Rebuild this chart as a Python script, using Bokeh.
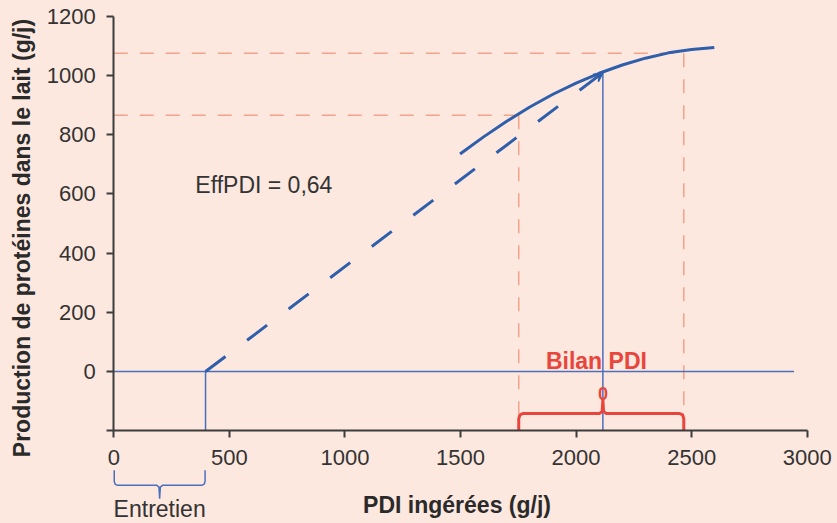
import math
from bokeh.plotting import figure
from bokeh.models import Range1d, FixedTicker, Label, Arrow, VeeHead
from bokeh.embed import file_html
from bokeh.resources import INLINE

# ---------------- data ----------------
# response curve (solid): PDI ingested (g/j) -> milk protein (g/j)
curve_x = [1498, 1600, 1700, 1800, 1900, 2000, 2100, 2200, 2300, 2400, 2500, 2598]
curve_y = [735, 793, 846, 894, 937, 975, 1008, 1036, 1059, 1077, 1088, 1095]

# marginal efficiency line (dashed), EffPDI = 0.64
eff_x = [397, 2116]
eff_y = [0, 1010]
eff_text = "EffPDI = 0,64"

# maintenance requirement (Entretien)
entretien_x = [0, 397]

# PDI balance range and its protein yields
bilan_x = [1752, 2466]
bilan_prod = [866, 1076]
bilan_zero_x = 2116

# horizontal reference line at 0
zero_line_x = [0, 2943]

x_ticks = [0, 500, 1000, 1500, 2000, 2500, 3000]
y_ticks = [-200, 0, 200, 400, 600, 800, 1000, 1200]
x_bounds = (0, 3000)
y_bounds = (-200, 1200)

x_label = "PDI ingérées (g/j)"
y_label = "Production de protéines dans le lait (g/j)"

# ---------------- style ----------------
BG = "#fde8df"
BLUE = "#2f5eab"
BLUE_THIN = "#4b6fbd"
SALMON = "#f4a28c"
RED = "#e8453c"
AXIS = "#3c3c3c"
TEXT = "#333333"
FONT = "Liberation Sans"

p = figure(width=837, height=523,
           x_range=Range1d(-490, 3131), y_range=Range1d(-514, 1254),
           output_backend="svg", toolbar_location=None,
           min_border_left=0, min_border_right=0,
           min_border_top=0, min_border_bottom=0,
           background_fill_color=BG, border_fill_color=BG,
           outline_line_color=None)
p.xgrid.visible = False
p.ygrid.visible = False

# y axis, fixed at x = 0
ya = p.yaxis[0]
ya.fixed_location = x_bounds[0]
ya.bounds = y_bounds
ya.ticker = FixedTicker(ticks=y_ticks)
ya.major_label_overrides = {y_bounds[0]: ""}
ya.minor_tick_line_color = None
ya.major_tick_in = 0
ya.major_tick_out = 7
ya.axis_line_width = 2
ya.axis_line_color = AXIS
ya.major_tick_line_width = 2
ya.major_tick_line_color = AXIS
ya.major_label_text_font = FONT
ya.major_label_text_font_size = "22px"
ya.major_label_text_color = TEXT
ya.major_label_standoff = 11

# x axis, fixed at the bottom of the y bounds
xa = p.xaxis[0]
xa.fixed_location = y_bounds[0]
xa.bounds = x_bounds
xa.ticker = FixedTicker(ticks=x_ticks)
xa.minor_tick_line_color = None
xa.major_tick_in = 0
xa.major_tick_out = 7
xa.axis_line_width = 2
xa.axis_line_color = AXIS
xa.major_tick_line_width = 2
xa.major_tick_line_color = AXIS
xa.major_label_text_font = FONT
xa.major_label_text_font_size = "22px"
xa.major_label_text_color = TEXT
xa.major_label_standoff = 12

# salmon dashed guide lines
bracket_bar = -142
p.line([0, bilan_x[1]], [bilan_prod[1], bilan_prod[1]], line_color=SALMON, line_width=1.5, line_dash="14 12")
p.line([0, bilan_x[0]], [bilan_prod[0], bilan_prod[0]], line_color=SALMON, line_width=1.5, line_dash="14 12")
p.line([bilan_x[0], bilan_x[0]], [bilan_prod[0], bracket_bar], line_color=SALMON, line_width=1.5, line_dash="14 12")
p.line([bilan_x[1], bilan_x[1]], [bilan_prod[1], bracket_bar], line_color=SALMON, line_width=1.5, line_dash="14 12")

# thin blue lines
p.line(zero_line_x, [0, 0], line_color=BLUE_THIN, line_width=1.5)
p.line([eff_x[0], eff_x[0]], [y_bounds[0], eff_y[0]], line_color=BLUE_THIN, line_width=1.5)
p.line([eff_x[1], eff_x[1]], [y_bounds[0], eff_y[1]], line_color=BLUE_THIN, line_width=1.5)

# efficiency dashed line and arrow head
p.line(eff_x, eff_y, line_color=BLUE, line_width=3, line_dash="25 27")
t = 0.03
p.add_layout(Arrow(end=VeeHead(size=9, line_color=BLUE, fill_color=BLUE, line_width=1.5),
                   x_start=eff_x[1] - t * (eff_x[1] - eff_x[0]),
                   y_start=eff_y[1] - t * (eff_y[1] - eff_y[0]),
                   x_end=eff_x[1], y_end=eff_y[1],
                   line_alpha=0))

# response curve
p.line(curve_x, curve_y, line_color=BLUE, line_width=3, line_join="round")

# red bracket (Bilan PDI)
b0, b1 = bilan_x
bm = bilan_zero_x
base = y_bounds[0]
tip = -95
rx = [b0, b0, b0 + 5, b0 + 20, bm - 14, bm - 3, bm, bm + 3, bm + 14, b1 - 20, b1 - 5, b1, b1]
ry = [base, bracket_bar - 18, bracket_bar - 5, bracket_bar, bracket_bar, bracket_bar + 7, tip,
      bracket_bar + 7, bracket_bar, bracket_bar, bracket_bar - 5, bracket_bar - 18, base]
p.line(rx, ry, line_color=RED, line_width=3, line_join="round")

# blue brace (Entretien)
e0, e1 = entretien_x
em = (e0 + e1) / 2
top_e, bar_e, tip_e = -334, -385, -430
ex = [e0 + 2, e0 + 2, e0 + 6, e0 + 16, em - 12, em - 3, em, em + 3, em + 12, e1 - 16, e1 - 6, e1 - 2, e1 - 2]
ey = [top_e, bar_e + 14, bar_e + 4, bar_e, bar_e, bar_e - 6, tip_e, bar_e - 6, bar_e, bar_e, bar_e + 4, bar_e + 14, top_e]
p.line(ex, ey, line_color=BLUE_THIN, line_width=1.5)

# texts
p.add_layout(Label(x=353, y=631, text=eff_text, text_font=FONT, text_font_size="23px",
                   text_color=TEXT, text_align="left", text_baseline="alphabetic"))
p.add_layout(Label(x=2088, y=34, text="Bilan PDI", text_font=FONT, text_font_size="23px",
                   text_font_style="bold", text_color=RED, text_align="center", text_baseline="alphabetic"))
p.add_layout(Label(x=bilan_zero_x, y=-75, text="0", text_font=FONT, text_font_size="18px",
                   text_font_style="bold", text_color=RED, text_align="center", text_baseline="alphabetic"))
p.add_layout(Label(x=em, y=-420, text="Entretien", text_font=FONT, text_font_size="23px",
                   text_color=TEXT, text_align="center", text_baseline="top"))
p.add_layout(Label(x=1485, y=-453, text=x_label, text_font=FONT, text_font_size="23px",
                   text_font_style="bold", text_color="#2a2a2a", text_align="center", text_baseline="alphabetic"))
p.add_layout(Label(x=-398, y=451, text=y_label, text_font=FONT, text_font_size="23px",
                   text_font_style="bold", text_color="#2a2a2a", text_align="center", text_baseline="middle",
                   angle=math.pi / 2))

html = file_html(p, INLINE)
html = html.replace("</head>", "<style>html, body { background-color: " + BG + "; }</style></head>", 1)
open("out.html", "w").write(html)
